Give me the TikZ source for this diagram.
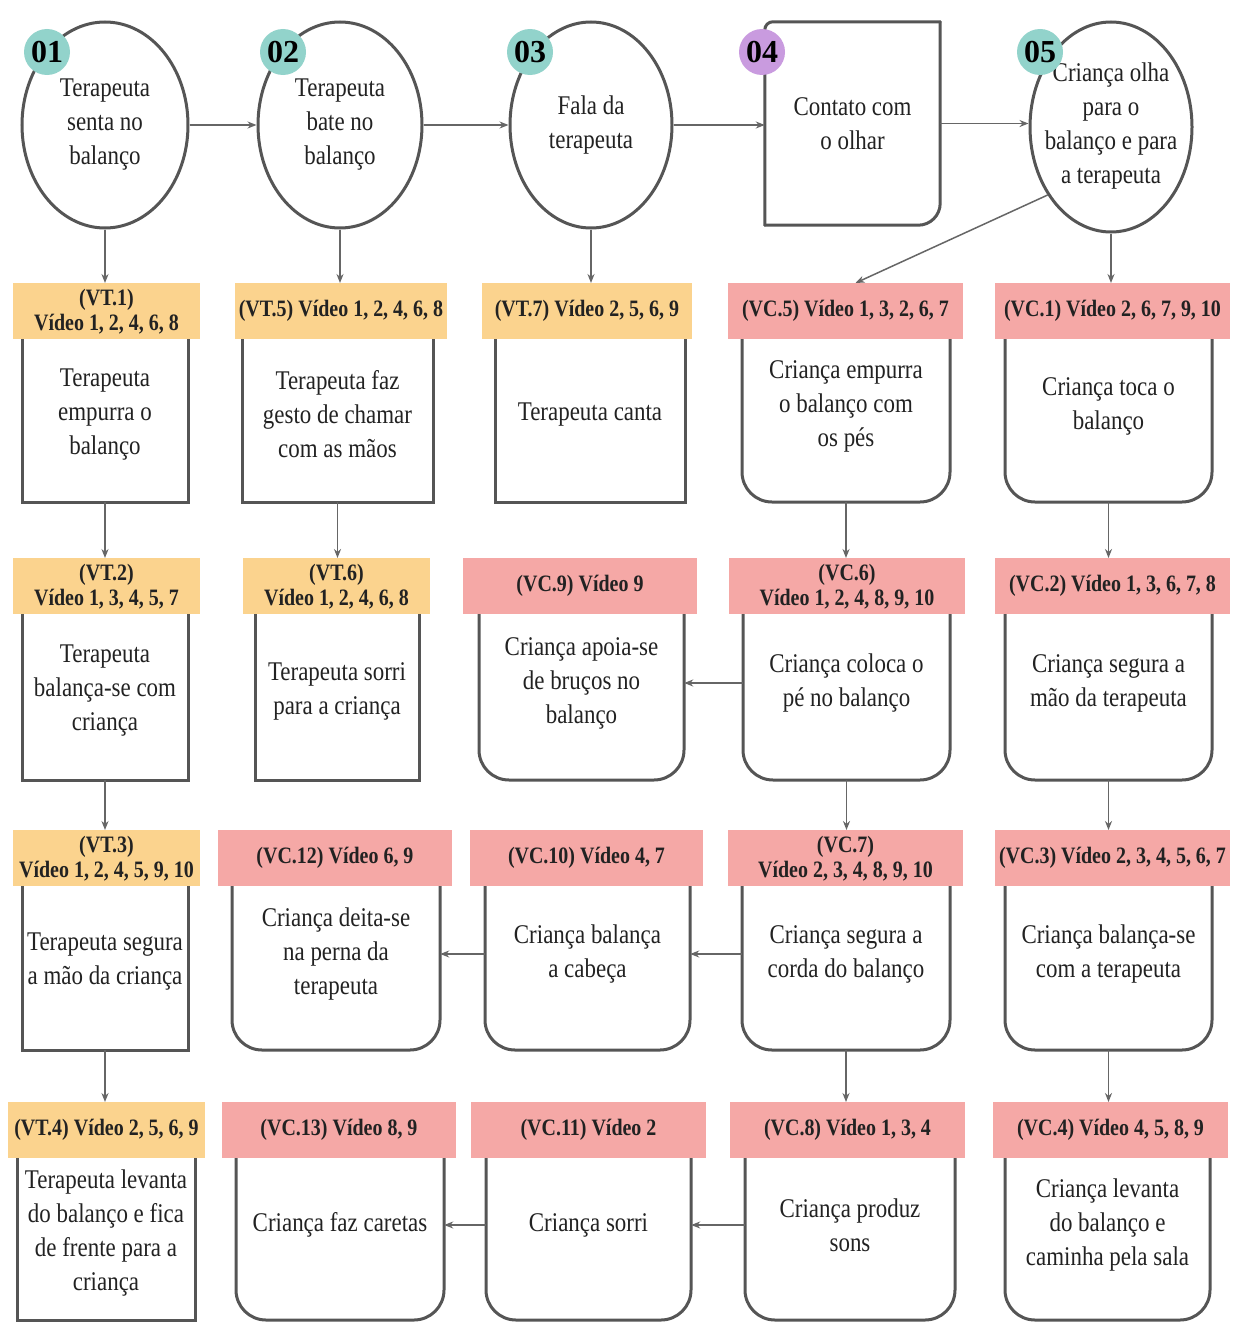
\documentclass[tikz,border=0pt]{standalone}
\usepackage{fontspec}
\setmainfont{Liberation Serif}[FakeStretch=0.85]
\newfontfamily\badgefam{Liberation Serif}
\usetikzlibrary{shapes.geometric,arrows.meta,calc}
\definecolor{vtcol}{HTML}{FBD38E}
\definecolor{vccol}{HTML}{F5A8A6}
\definecolor{tealc}{HTML}{92D3CB}
\definecolor{purpc}{HTML}{C99BDF}
\definecolor{linegray}{HTML}{555555}
\definecolor{arrgray}{HTML}{666666}
\definecolor{txt}{HTML}{222222}
\newcommand\bodyfont{\fontsize{27}{34}\selectfont}
\newcommand\hdrfont{\fontsize{23.5}{25}\selectfont\bfseries}
\newcommand\badgefont{\badgefam\fontsize{32}{32}\selectfont\bfseries}
\def\vtoff{6}
\def\vcoff{14}
\newcommand\myunit[8]{%
  \pgfmathsetmacro\uxc{(#3+#4)/2}%
  \pgfmathsetmacro\uhxc{(#5+#6)/2}%
  \pgfmathsetmacro\uhw{#6-#5}%
  \pgfmathsetmacro\uhb{\rowtop+54}%
  \pgfmathsetmacro\uw{#4-#3}%
  \pgfmathsetmacro\uty{(\rowtop+56+\rowbot)/2-\csname #2off\endcsname}%
  \draw[#2line] (#3,\uhb) -- (#3,\rowbot) -- (#4,\rowbot) -- (#4,\uhb);
  \coordinate (#1-s) at (\uxc,\rowbot);
  \node[#2head, minimum width=\uhw pt, anchor=north] (#1h) at (\uhxc,\rowtop) {#7};
  \node[bodytext, minimum width=\uw pt] (#1) at (\uxc,\uty) {#8};
}
\tikzset{
  boxln/.style={draw=linegray, line width=3pt},
  vtline/.style={boxln},
  vcline/.style={boxln, rounded corners=30pt},
  hdr/.style={draw=none, minimum height=56pt, inner sep=0pt, align=center, font=\hdrfont, text=txt},
  vthead/.style={hdr, fill=vtcol},
  vchead/.style={hdr, fill=vccol},
  bodytext/.style={align=center, inner sep=0pt, font=\bodyfont, text=txt},
  arr/.style={draw=arrgray, line width=1.5pt, -{Stealth[length=9pt,width=7pt]}},
  topshape/.style={ellipse, draw=linegray, line width=3pt, inner sep=0pt},
  badge/.style={circle, minimum size=46pt, inner sep=0pt, font=\badgefont, text=black},
}
\begin{document}
\begin{tikzpicture}[x=1pt,y=-1pt]
\fill[white] (0,0) rectangle (1245,1322);
\useasboundingbox (0,0) rectangle (1245,1322);

% top row
\node[topshape, minimum width=166pt, minimum height=206pt] (c1) at (105,125) {};
\node[bodytext] (c1t) at (c1.center) {Terapeuta\\senta no\\balanço};
\node[topshape, minimum width=164pt, minimum height=206pt] (c2) at (340,125) {};
\node[bodytext] (c2t) at (c2.center) {Terapeuta\\bate no\\balanço};
\node[topshape, minimum width=162pt, minimum height=206pt] (c3) at (591,125) {};
\node[bodytext] (c3t) at (c3.center) {Fala da\\terapeuta};
\node[bodytext, minimum width=175pt, minimum height=203pt] (c4) at (852.5,123.5) {Contato com\\o olhar};
\draw[boxln, rounded corners=8pt, line cap=round] (c4.south west) -- (c4.north west) -- (c4.north east);
\draw[boxln, rounded corners=22pt, line cap=round] (c4.north east) -- (c4.south east) -- (c4.south west);
\node[topshape, minimum width=162pt, minimum height=210pt] (c5) at (1111,127) {};
\node[bodytext] (c5t) at ([yshift=1pt]c5.center) {Criança olha\\para o\\balanço e para\\a terapeuta};

\node[badge, fill=tealc] (b1) at (47,52) {01};
\node[badge, fill=tealc] (b2) at (283,52) {02};
\node[badge, fill=tealc] (b3) at (530,52) {03};
\node[badge, fill=purpc] (b4) at (762,52) {04};
\node[badge, fill=tealc] (b5) at (1040,52) {05};

% row 1
\def\rowtop{283}\def\rowbot{502}
\myunit{vt1}{vt}{22}{188}{13}{200}{(VT.1)\\Vídeo 1, 2, 4, 6, 8}{Terapeuta\\empurra o\\balanço}
\myunit{vt5}{vt}{242}{433}{235}{447}{(VT.5) Vídeo 1, 2, 4, 6, 8}{Terapeuta faz\\gesto de chamar\\com as mãos}
\myunit{vt7}{vt}{495}{685}{482}{692}{(VT.7) Vídeo 2, 5, 6, 9}{Terapeuta canta}
\myunit{vc5}{vc}{742}{950}{728}{963}{(VC.5) Vídeo 1, 3, 2, 6, 7}{Criança empurra\\o balanço com\\os pés}
\myunit{vc1}{vc}{1005}{1212}{995}{1230}{(VC.1) Vídeo 2, 6, 7, 9, 10}{Criança toca o\\balanço}

% row 2
\def\rowtop{558}\def\rowbot{780}
\myunit{vt2}{vt}{22}{188}{13}{200}{(VT.2)\\Vídeo 1, 3, 4, 5, 7}{Terapeuta\\balança-se com\\criança}
\myunit{vt6}{vt}{255}{419}{243}{430}{(VT.6)\\Vídeo 1, 2, 4, 6, 8}{Terapeuta sorri\\para a criança}
\myunit{vc9}{vc}{479}{684}{463}{697}{(VC.9) Vídeo 9}{Criança apoia-se\\de bruços no\\balanço}
\myunit{vc6}{vc}{743}{950}{729}{965}{(VC.6)\\Vídeo 1, 2, 4, 8, 9, 10}{Criança coloca o\\pé no balanço}
\myunit{vc2}{vc}{1005}{1212}{995}{1230}{(VC.2) Vídeo 1, 3, 6, 7, 8}{Criança segura a\\mão da terapeuta}

% row 3
\def\rowtop{830}\def\rowbot{1050}
\myunit{vt3}{vt}{22}{188}{13}{200}{(VT.3)\\Vídeo 1, 2, 4, 5, 9, 10}{Terapeuta segura\\a mão da criança}
\myunit{vc12}{vc}{232}{440}{218}{452}{(VC.12) Vídeo 6, 9}{Criança deita-se\\na perna da\\terapeuta}
\myunit{vc10}{vc}{485}{690}{470}{703}{(VC.10) Vídeo 4, 7}{Criança balança\\a cabeça}
\myunit{vc7}{vc}{742}{950}{728}{963}{(VC.7)\\Vídeo 2, 3, 4, 8, 9, 10}{Criança segura a\\corda do balanço}
\myunit{vc3}{vc}{1005}{1212}{995}{1230}{(VC.3) Vídeo 2, 3, 4, 5, 6, 7}{Criança balança-se\\com a terapeuta}

% row 4
\def\rowtop{1102}\def\rowbot{1320}
\myunit{vt4}{vt}{17}{195}{8}{205}{(VT.4) Vídeo 2, 5, 6, 9}{Terapeuta levanta\\do balanço e fica\\de frente para a\\criança}
\myunit{vc13}{vc}{236}{444}{222}{456}{(VC.13) Vídeo 8, 9}{Criança faz caretas}
\myunit{vc11}{vc}{486}{691}{471}{706}{(VC.11) Vídeo 2}{Criança sorri}
\myunit{vc8}{vc}{745}{955}{730}{965}{(VC.8) Vídeo 1, 3, 4}{Criança produz\\sons}
\myunit{vc4}{vc}{1005}{1210}{993}{1228}{(VC.4) Vídeo 4, 5, 8, 9}{Criança levanta\\do balanço e\\caminha pela sala}

% connectors, top row
\draw[arr] (c1) -- (c2);
\draw[arr] (c2) -- (c3);
\draw[arr] (c3.east) -- (c3.east -| c4.west);
\draw[arr] (c4.east) -- (c4.east -| c5.west);
\draw[arr] (c1.south) -- (c1.south |- vt1h.north);
\draw[arr] (c2.south) -- (c2.south |- vt5h.north);
\draw[arr] (c3.south) -- (c3.south |- vt7h.north);
\draw[arr] (c5.south) -- (c5.south |- vc1h.north);
\draw[arr] (c5.227) -- ([xshift=10pt]vc5h.north);

% vertical connectors
\draw[arr] (vt1-s) -- (vt1-s |- vt2h.north);
\draw[arr] (vt5-s) -- (vt5-s |- vt6h.north);
\draw[arr] (vc5-s) -- (vc5-s |- vc6h.north);
\draw[arr] (vc1-s) -- (vc1-s |- vc2h.north);
\draw[arr] (vt2-s) -- (vt2-s |- vt3h.north);
\draw[arr] (vc6-s) -- (vc6-s |- vc7h.north);
\draw[arr] (vc2-s) -- (vc2-s |- vc3h.north);
\draw[arr] (vt3-s) -- (vt3-s |- vt4h.north);
\draw[arr] (vc7-s) -- (vc7-s |- vc8h.north);
\draw[arr] (vc3-s) -- (vc3-s |- vc4h.north);

% horizontal connectors
\draw[arr] (vc6.west) -- (vc9.east);
\draw[arr] (vc7.west) -- (vc10.east);
\draw[arr] (vc10.west) -- (vc12.east);
\draw[arr] (vc8.west) -- (vc11.east);
\draw[arr] (vc11.west) -- (vc13.east);
\end{tikzpicture}
\end{document}
